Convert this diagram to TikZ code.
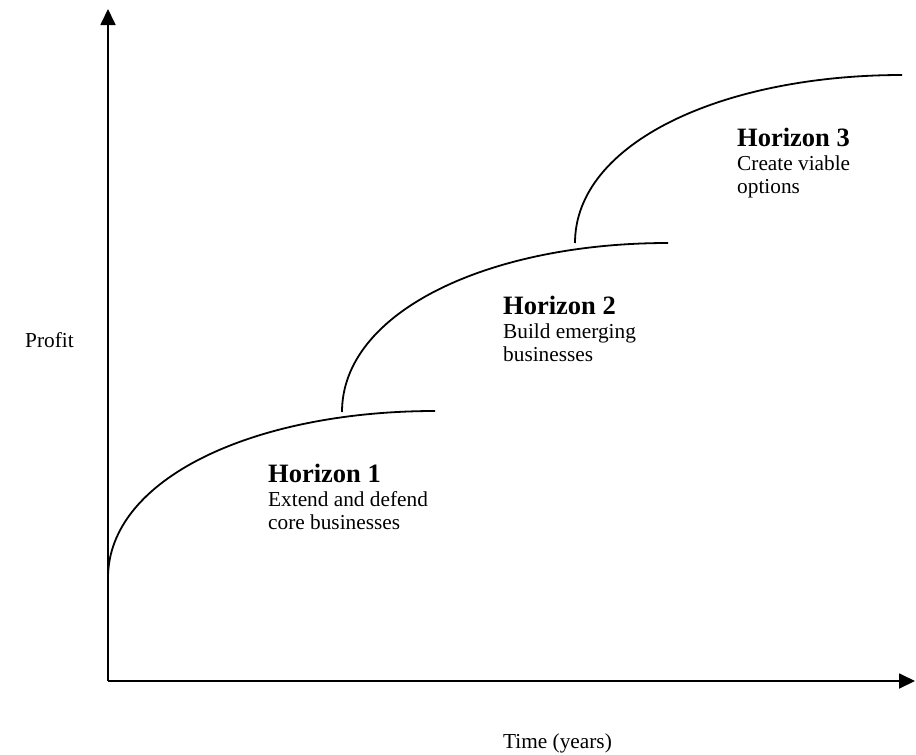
\documentclass[tikz,border=0pt]{standalone}
\usepackage{fontspec}
\setmainfont{Liberation Serif}
\usetikzlibrary{arrows.meta}
\usetikzlibrary{positioning}

\begin{document}
\begin{tikzpicture}
		[
		x=1pt, y=-1pt,
		axis/.style={line width=1.8pt,-{Triangle[length=16pt,width=15pt]}},
		curve/.style={line width=1.8pt},
		every node/.style={inner sep=0pt}
		]
		
		% Text styles: titles and descriptions
		\tikzstyle{title}=[anchor=base west,font=\fontsize{26.5}{30}\selectfont\bfseries];
		\tikzstyle{desc}=[anchor=base west,font=\fontsize{21.3}{24}\selectfont];
		
		\useasboundingbox (0,0) rectangle (916,755);
		
		% Axes
		\coordinate (o) at (108,681);
		\coordinate (ytop) at (108,9);
		\coordinate (xend) at (915,681);
		\draw[axis] (o) -- (ytop);
		\draw[axis] (o) -- (xend);
		
		% Axis labels
		\node[desc] (profit) at (25,347) {Profit};
		\node[desc] (time) at (503,748) {Time (years)};
		
		% The three growth curves
		\coordinate (s1) at (108,578);  \coordinate (e1) at (435,411);
		\coordinate (s2) at (342,412);  \coordinate (e2) at (668,243);
		\coordinate (s3) at (575,243);  \coordinate (e3) at (902,75);
		\foreach \x in {1,2,3}
			\draw[curve] (s\x) .. controls +(0,-100) and +(-180,0) .. (e\x);
		
		% Horizon labels
		% horizon 1
		\node[title] (h1) at (268,482) {Horizon 1};
		\node[desc] (h1a) at (268,506) {Extend and defend};
		\node[desc] (h1b) at (268,529) {core businesses};
		% horizon 2
		\node[title] (h2) at (503,314) {Horizon 2};
		\node[desc] (h2a) at (503,338) {Build emerging};
		\node[desc] (h2b) at (503,361) {businesses};
		% horizon 3
		\node[title] (h3) at (737,146) {Horizon 3};
		\node[desc] (h3a) at (737,170) {Create viable};
		\node[desc] (h3b) at (737,193) {options};
		
\end{tikzpicture}
\end{document}
